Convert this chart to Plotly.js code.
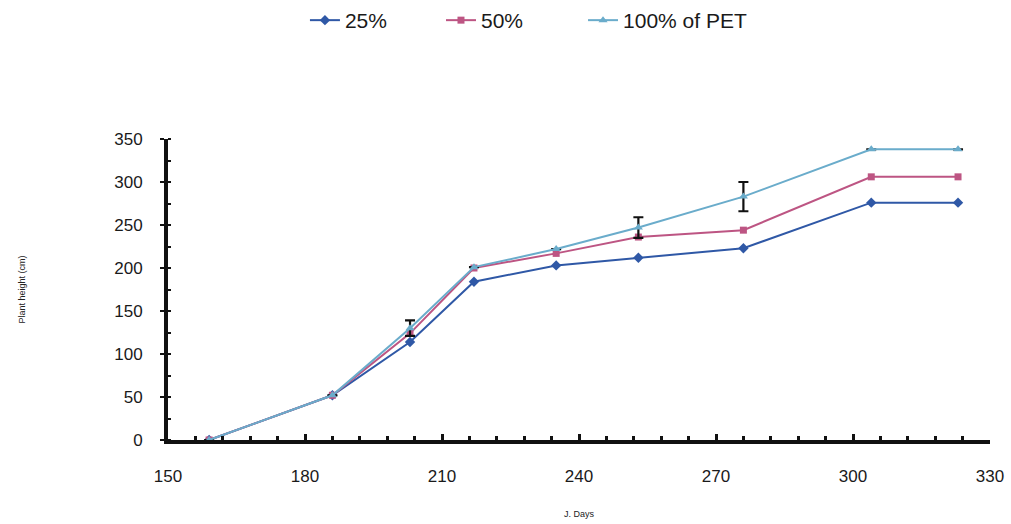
<!DOCTYPE html>
<html>
<head>
<meta charset="utf-8">
<script src="https://cdn.plot.ly/plotly-3.0.1.min.js"></script>
<style>
  html, body { margin: 0; padding: 0; background: #fff; }
  #chart { width: 1011px; height: 524px; }
</style>
</head>
<body>
<div id="chart"></div>
<script>
// Julian days of measurement
const days = [159, 186, 203, 217, 235, 253, 276, 304, 323];

// Plant height (cm) under irrigation at 25%, 50% and 100% of PET
const h25 = [0, 52, 114, 184, 203, 212, 223, 276, 276];
const h50 = [0, 52, 124, 200, 217, 236, 244, 306, 306];
const h100 = [0, 52, 130, 201, 222, 247, 283, 338, 338];

// Standard error shown on the 100% series
const err100 = [0, 0, 9, 0, 0, 12, 17, 0, 0];

const seriesNames = ['25%', '50%', '100% of PET'];
const colors = ['#2f58a6', '#bd5583', '#6aaccb'];
const symbols = ['diamond', 'square', 'triangle-up'];
const values = [h25, h50, h100];
const legendIds = ['legend', 'legend2', 'legend3'];

const traces = values.map((v, i) => {
  const t = {
    x: days,
    y: v,
    name: seriesNames[i],
    legend: legendIds[i],
    type: 'scatter',
    mode: 'lines+markers',
    line: { color: colors[i], width: 2 },
    marker: { color: colors[i], symbol: symbols[i], size: i === 1 ? 7 : 8 }
  };
  if (i === 2) {
    t.error_y = {
      type: 'data',
      array: err100,
      visible: true,
      color: '#111',
      thickness: 2.2,
      width: 5
    };
  }
  return t;
});

// one single-entry legend per series, laid out in a row above the plot
function legendAt(xPos) {
  return {
    orientation: 'h',
    x: xPos,
    xref: 'paper',
    xanchor: 'left',
    y: 1.0,
    yref: 'container',
    yanchor: 'top',
    font: { size: 21, color: '#1a1a1a' },
    bgcolor: 'rgba(0,0,0,0)'
  };
}

const layout = {
  width: 1011,
  height: 524,
  margin: { l: 168, r: 21, t: 139, b: 84 },
  paper_bgcolor: '#fff',
  plot_bgcolor: '#fff',
  font: { family: 'Liberation Sans, Arial, sans-serif', color: '#1a1a1a' },
  showlegend: true,
  legend: legendAt(0.1666),
  legend2: legendAt(0.3321),
  legend3: legendAt(0.5049),
  xaxis: {
    range: [150, 330],
    tickvals: [150, 180, 210, 240, 270, 300, 330],
    showgrid: false,
    zeroline: false,
    showline: true,
    linecolor: '#111',
    linewidth: 4,
    ticks: 'inside',
    ticklen: 6,
    tickwidth: 3,
    tickcolor: '#111',
    ticklabelstandoff: 18,
    minor: { dtick: 6, tick0: 150, ticks: 'inside', ticklen: 4, tickwidth: 3, tickcolor: '#111' },
    tickfont: { size: 17, color: '#1a1a1a' },
    anchor: 'y',
    title: { text: 'J. Days', font: { size: 9, color: '#222' }, standoff: 26 }
  },
  yaxis: {
    range: [0, 350],
    dtick: 50,
    showgrid: false,
    zeroline: false,
    showline: true,
    linecolor: '#111',
    linewidth: 4,
    ticks: 'outside',
    ticklen: 4,
    tickwidth: 2,
    tickcolor: '#111',
    ticklabelstandoff: 14,
    minor: { dtick: 25, ticks: 'inside', ticklen: 3, tickwidth: 2, tickcolor: '#111' },
    tickfont: { size: 17, color: '#1a1a1a' },
    title: { text: 'Plant height (cm)', font: { size: 9, color: '#222' }, standoff: 88 }
  }
};

Plotly.newPlot('chart', traces, layout, { displayModeBar: false, staticPlot: true });
</script>
</body>
</html>
